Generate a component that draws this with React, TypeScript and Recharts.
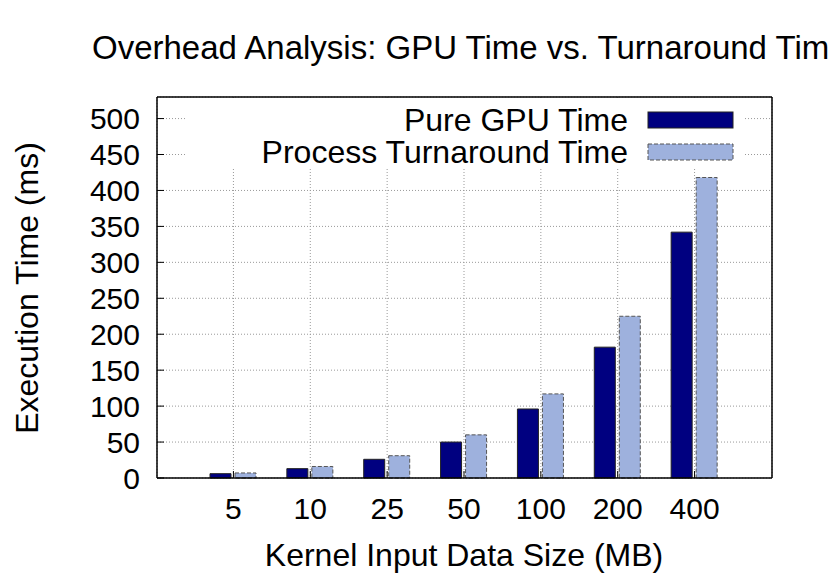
import { BarChart, Bar, XAxis, YAxis, CartesianGrid, Legend } from "recharts";

// kernel input data sizes (MB)
const sizes = ["5", "10", "25", "50", "100", "200", "400"];
// execution times in ms
const gpuTime = [6, 13, 26, 50, 96, 182, 342];
const turnaroundTime = [7, 16, 31, 60, 117, 225, 418];
const yTicks = [0, 50, 100, 150, 200, 250, 300, 350, 400, 450, 500];
const seriesKeys = ["gpu", "turnaround"];

const data = sizes.map((size, i) => ({
  size,
  gpu: gpuTime[i],
  turnaround: turnaroundTime[i],
}));

const FONT = "'Liberation Sans', Arial, sans-serif";
const NAVY = "#000080";
const LIGHT = "#9eb1dd";

const renderLegend = (props: any) => {
  const payload = props.payload || [];
  // keep the plot order: GPU first, turnaround second
  const items = seriesKeys
    .map((k) => payload.find((p: any) => p.dataKey === k))
    .filter(Boolean);
  return (
    <svg width={560} height={67} style={{ display: "block", overflow: "visible" }}>
      <rect width={560} height={67} fill="#fff" />
      {items.map((item: any, i: number) => (
        <g key={i}>
          <text
            x={443}
            y={31 + i * 32}
            textAnchor="end"
            fontFamily={FONT}
            fontSize={32}
            fill="#000"
          >
            {item.value}
          </text>
          <rect
            x={463}
            y={12 + i * 32}
            width={85}
            height={16}
            fill={item.color}
            stroke={i === 0 ? "#222" : "#555"}
            strokeDasharray={i === 0 ? undefined : "4 2"}
          />
        </g>
      ))}
    </svg>
  );
};

export default function App() {
  return (
    <div style={{ position: "absolute", left: 0, top: 0, width: 830, height: 581, overflow: "hidden", background: "#fff" }}>
      <BarChart
        width={830}
        height={581}
        data={data}
        margin={{ top: 96, right: 57, bottom: 43, left: 77 }}
        barSize={21}
        barGap={4}
      >
        <CartesianGrid stroke="#999" strokeDasharray="1 2" />
        <XAxis
          dataKey="size"
          padding={{ left: 38, right: 39 }}
          height={60}
          interval={0}
          tickSize={-7}
          tickMargin={27}
          axisLine={{ stroke: "#000", strokeWidth: 1.5 }}
          tickLine={{ stroke: "#000" }}
          tick={{ fill: "#000", fontSize: 30, fontFamily: FONT }}
        />
        <XAxis
          xAxisId="top"
          orientation="top"
          dataKey="size"
          padding={{ left: 38, right: 39 }}
          height={1}
          interval={0}
          tickSize={-7}
          tick={false}
          axisLine={{ stroke: "#000", strokeWidth: 1.5 }}
          tickLine={{ stroke: "#000" }}
        />
        <YAxis
          domain={[0, 530]}
          ticks={yTicks}
          interval={0}
          width={80}
          tickSize={-7}
          tickMargin={24}
          axisLine={{ stroke: "#000", strokeWidth: 1.5 }}
          tickLine={{ stroke: "#000" }}
          tick={{ fill: "#000", fontSize: 30, fontFamily: FONT }}
        />
        <YAxis
          yAxisId="right"
          orientation="right"
          domain={[0, 530]}
          ticks={yTicks}
          interval={0}
          width={1}
          tickSize={-7}
          tick={false}
          axisLine={{ stroke: "#000", strokeWidth: 1.5 }}
          tickLine={{ stroke: "#000" }}
        />
        <Bar dataKey="gpu" name="Pure GPU Time" fill={NAVY} stroke="#222" isAnimationActive={false} />
        <Bar
          dataKey="turnaround"
          name="Process Turnaround Time"
          fill={LIGHT}
          stroke="#555"
          strokeDasharray="4 2"
          isAnimationActive={false}
        />
        <Legend
          layout="horizontal"
          verticalAlign="middle"
          align="center"
          content={renderLegend}
          wrapperStyle={{ left: 185, top: 100, width: 560, height: 67 }}
        />
      </BarChart>
      <svg
        width={830}
        height={581}
        style={{ position: "absolute", left: 0, top: 0, pointerEvents: "none" }}
      >
        <text x={92} y={59} fontFamily={FONT} fontSize={33} fill="#000">
          Overhead Analysis: GPU Time vs. Turnaround Time
        </text>
        <text x={464} y={566} textAnchor="middle" fontFamily={FONT} fontSize={32} fill="#000">
          Kernel Input Data Size (MB)
        </text>
        <text
          transform="translate(38, 288) rotate(-90)"
          textAnchor="middle"
          fontFamily={FONT}
          fontSize={32}
          fill="#000"
        >
          Execution Time (ms)
        </text>
      </svg>
    </div>
  );
}
